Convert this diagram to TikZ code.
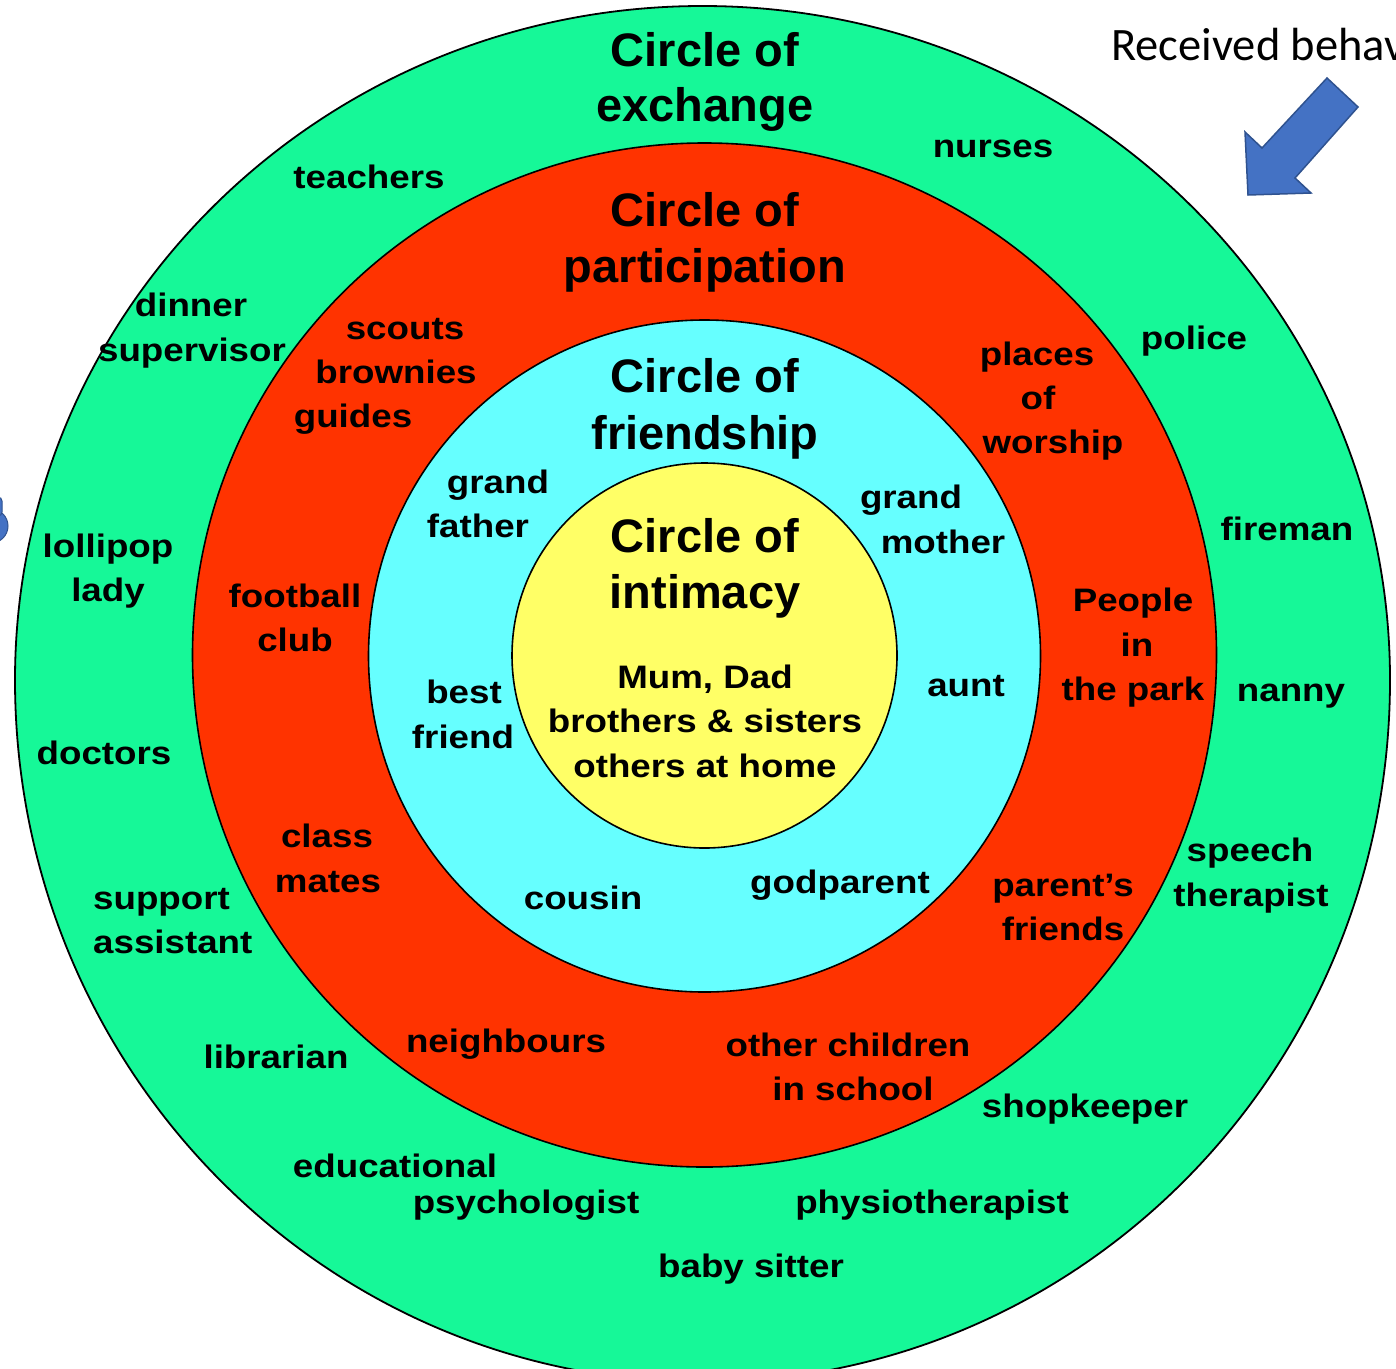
\documentclass[tikz,border=0pt]{standalone}
\usepackage{fontspec}
\setmainfont{Liberation Sans}
\newfontfamily\labfont{Liberation Sans}[FakeStretch=1.13]
\newfontfamily\calfont{Carlito}
\definecolor{ringgreen}{RGB}{22,248,152}
\definecolor{ringred}{RGB}{255,51,0}
\definecolor{ringcyan}{RGB}{102,255,255}
\definecolor{ringyellow}{RGB}{255,255,102}
\definecolor{arrowblue}{RGB}{68,114,196}
\definecolor{arrowedge}{RGB}{47,82,143}
\tikzset{
  lab/.style={font=\labfont\bfseries\fontsize{32.5}{40}\selectfont, anchor=base, inner sep=0pt},
  ttl/.style={font=\bfseries\fontsize{47}{56}\selectfont, anchor=base, inner sep=0pt},
  ringnode/.style={circle, draw=black, line width=1.6pt, inner sep=0pt}
}
\begin{document}
\begin{tikzpicture}[x=1pt,y=-1pt]
\useasboundingbox (0,0) rectangle (1396,1368);
\clip (0,0) rectangle (1396,1368);
\fill[white] (0,0) rectangle (1396,1368);

% outer green ring (egg-shaped)
\filldraw[fill=ringgreen, draw=black, line width=1.8pt]
  (15,680) arc[start angle=180, end angle=360, x radius=687.5, y radius=674]
  arc[start angle=0, end angle=180, x radius=687.5, y radius=702] -- cycle;

% inner circles
\node (red) [ringnode, fill=ringred, minimum size=1024pt] at (704.5,655) {};
\node (cyan) [ringnode, fill=ringcyan, minimum size=672pt] at (704.5,656) {};
\node (yellow) [ringnode, fill=ringyellow, minimum size=385pt] at (704.5,655.5) {};

% partial blue icon on the left edge
\fill[arrowblue, draw=arrowedge, line width=1pt] (-9,526) circle[radius=17];
\fill[arrowblue, draw=arrowedge, line width=1pt, rounded corners=4pt] (-20,497) rectangle (2,516);

% block arrow
\filldraw[fill=arrowblue, draw=arrowedge, line width=1.5pt]
  (1327,78) -- (1358,107) -- (1295,178) -- (1311,193) -- (1248,195) -- (1245,132) -- (1262,148) -- cycle;
\node (recv) [font=\calfont\fontsize{46.5}{56}\selectfont, anchor=base west, inner sep=0pt] at (1111,60) {Received behav};

% titles
\node (ex1) [ttl] at (705,66.5) {Circle of};
\node (ex2) [ttl] at (705,121) {exchange};
\node (pa1) [ttl] at (705,226.5) {Circle of};
\node (pa2) [ttl] at (705,282.5) {participation};
\node (fr1) [ttl] at (705,392.5) {Circle of};
\node (fr2) [ttl] at (705,449) {friendship};
\node (in1) [ttl] at (705,552) {Circle of};
\node (in2) [ttl] at (705,608) {intimacy};

% intimacy content
\node (mum) [lab] at (705,688) {Mum, Dad};
\node (bro) [lab] at (705,732) {brothers \& sisters};
\node (oth) [lab] at (705,777) {others at home};

% friendship ring
\node (gf1) [lab] at (498,493) {grand};
\node (gf2) [lab] at (478,537) {father};
\node (gm1) [lab] at (911,508) {grand};
\node (gm2) [lab] at (943,553) {mother};
\node (bf1) [lab] at (464,703) {best};
\node (bf2) [lab] at (463,748) {friend};
\node (aunt) [lab] at (966,696) {aunt};
\node (cous) [lab] at (583,909) {cousin};
\node (god) [lab] at (840,893) {godparent};

% participation ring
\node (sc1) [lab] at (405,339) {scouts};
\node (sc2) [lab] at (396,383) {brownies};
\node (sc3) [lab] at (353,427) {guides};
\node (pw1) [lab] at (1037,365) {places};
\node (pw2) [lab] at (1038,409) {of};
\node (pw3) [lab] at (1053,453) {worship};
\node (fb1) [lab] at (295,607) {football};
\node (fb2) [lab] at (295,651) {club};
\node (pp1) [lab] at (1133,611) {People};
\node (pp2) [lab] at (1137,656) {in};
\node (pp3) [lab] at (1133,700) {the park};
\node (cm1) [lab] at (327,847) {class};
\node (cm2) [lab] at (328,892) {mates};
\node (pf1) [lab] at (1063,896) {parent’s};
\node (pf2) [lab] at (1063,940) {friends};
\node (nei) [lab] at (506,1052) {neighbours};
\node (oc1) [lab] at (848,1056) {other children};
\node (oc2) [lab] at (853,1100) {in school};

% exchange ring
\node (tea) [lab] at (369,188) {teachers};
\node (nur) [lab] at (993,157) {nurses};
\node (di1) [lab] at (191,316) {dinner};
\node (di2) [lab] at (192,361) {supervisor};
\node (pol) [lab] at (1194,349) {police};
\node (lo1) [lab] at (108,557) {lollipop};
\node (lo2) [lab] at (108,601) {lady};
\node (fir) [lab] at (1287,540) {fireman};
\node (nan) [lab] at (1291,701) {nanny};
\node (doc) [lab] at (104,764) {doctors};
\node (sp1) [lab] at (1250,861) {speech};
\node (sp2) [lab] at (1251,906) {therapist};
\node (su1) [lab, anchor=base west] at (93,909) {support};
\node (su2) [lab, anchor=base west] at (93,953) {assistant};
\node (lib) [lab] at (276,1068) {librarian};
\node (sho) [lab] at (1085,1117) {shopkeeper};
\node (ed1) [lab] at (395,1177) {educational};
\node (ed2) [lab] at (526,1213) {psychologist};
\node (phy) [lab] at (932,1213) {physiotherapist};
\node (bab) [lab] at (751,1277) {baby sitter};
\end{tikzpicture}
\end{document}
